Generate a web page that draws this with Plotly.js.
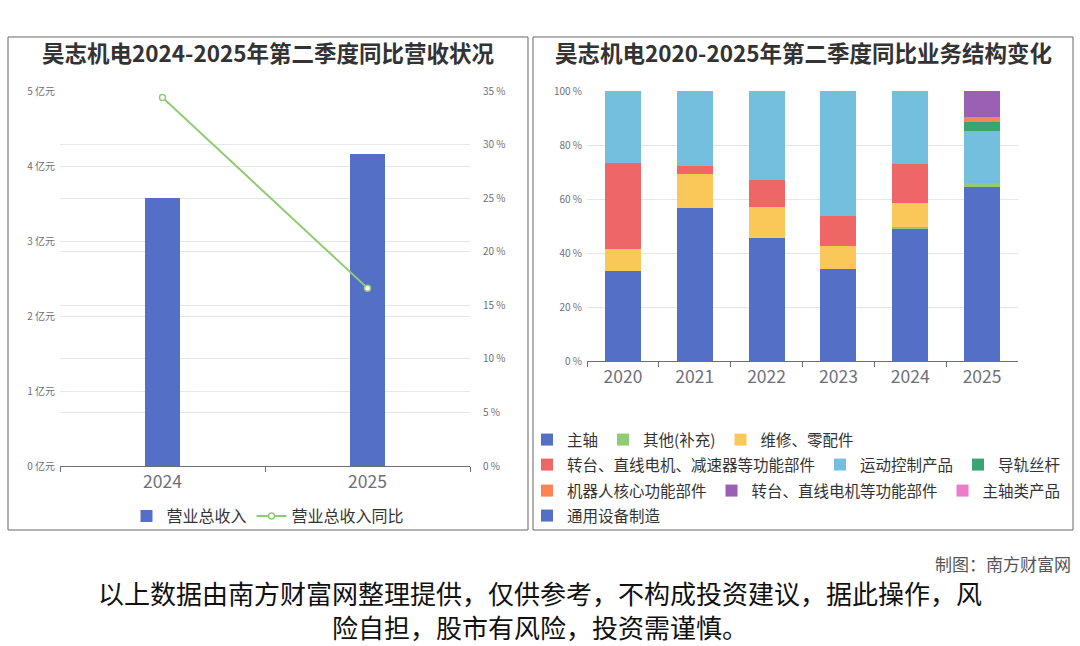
<!DOCTYPE html>
<html>
<head>
<meta charset="utf-8">
<script src="https://cdn.plot.ly/plotly-3.0.1.min.js"></script>
<style>
html,body{margin:0;padding:0;background:#fff;}
#chart{width:1080px;height:646px;}
</style>
</head>
<body>
<div id="chart"></div>
<script>
// ---------- data ----------
const revYears = ['2024', '2025'];
const revenue = [3.57, 4.16];          // 亿元
const revenueYoY = [34.4, 16.6];       // %

const structYears = ['2020', '2021', '2022', '2023', '2024', '2025'];
const segNames = ['主轴', '其他(补充)', '维修、零配件', '转台、直线电机、减速器等功能部件', '运动控制产品',
                  '导轨丝杆', '机器人核心功能部件', '转台、直线电机等功能部件', '主轴类产品', '通用设备制造'];
const segMainShaft   = [33.2, 56.5, 45.6, 33.9, 49.0, 64.5];
const segOther       = [0, 0, 0, 0, 0.6, 1.5];
const segRepair      = [8.3, 12.6, 11.5, 8.6, 9.1, 0];
const segTurntable   = [32.0, 3.2, 10.1, 11.2, 14.4, 0];
const segMotion      = [26.5, 27.7, 32.8, 46.3, 26.9, 19.1];
const segGuide       = [0, 0, 0, 0, 0, 3.4];
const segRobot       = [0, 0, 0, 0, 0, 1.8];
const segTurntable2  = [0, 0, 0, 0, 0, 9.7];
const segShaftProd   = [0, 0, 0, 0, 0, 0];
const segGeneral     = [0, 0, 0, 0, 0, 0];
const segValues = [segMainShaft, segOther, segRepair, segTurntable, segMotion,
                   segGuide, segRobot, segTurntable2, segShaftProd, segGeneral];

// ---------- styles ----------
const palette = ['#5470c6', '#91cc75', '#fac858', '#ee6666', '#73c0de',
                 '#3ba272', '#fc8452', '#9a60b4', '#ea7ccc', '#5470c6'];
const segLegend = ['legend2', 'legend2', 'legend2', 'legend3', 'legend3', 'legend3',
                   'legend4', 'legend4', 'legend4', 'legend5'];
const FONT = '"Noto Sans CJK SC", "Noto Sans", sans-serif';
const W = 1080, H = 646;
const px = v => v / W;
const py = v => 1 - v / H;
const axisGray = '#6e7079';
const gridGray = '#e6e6e6';

const traces = [];
traces.push({
  type: 'bar', name: '营业总收入', x: revYears, y: revenue,
  xaxis: 'x', yaxis: 'y', width: 0.17,
  marker: {color: '#5470c6', line: {width: 0}},
  legend: 'legend', hoverinfo: 'skip'
});
traces.push({
  type: 'scatter', mode: 'lines+markers', name: '营业总收入同比', x: revYears, y: revenueYoY,
  xaxis: 'x', yaxis: 'y2',
  line: {color: '#91cc75', width: 2},
  marker: {symbol: 'circle', size: 6, color: '#ffffff', line: {color: '#91cc75', width: 1.5}},
  legend: 'legend', hoverinfo: 'skip', cliponaxis: false
});
segNames.forEach((n, i) => {
  traces.push({
    type: 'bar', name: n, x: structYears, y: segValues[i],
    xaxis: 'x2', yaxis: 'y3', width: 0.5,
    marker: {color: palette[i], line: {width: 0}},
    legend: segLegend[i], hoverinfo: 'skip'
  });
});

const tickFontSmall = {family: FONT, size: 10, color: axisGray};
const catFont = {family: FONT, size: 17.5, color: axisGray};

function rowLegend(yPix) {
  return {
    orientation: 'h', x: px(527), xanchor: 'left', y: py(yPix), yanchor: 'middle',
    font: {family: FONT, size: 15.5, color: '#333'}, bgcolor: 'rgba(0,0,0,0)',
    traceorder: 'normal', itemclick: false, itemdoubleclick: false
  };
}

const layout = {
  width: W, height: H,
  margin: {l: 0, r: 0, t: 0, b: 0},
  paper_bgcolor: '#ffffff', plot_bgcolor: 'rgba(0,0,0,0)',
  font: {family: FONT, color: axisGray},
  barmode: 'stack',
  showlegend: true,
  xaxis: {
    domain: [px(60), px(470)], anchor: 'y', type: 'category',
    tickson: 'boundaries', ticks: 'outside', ticklen: 5, tickcolor: axisGray,
    showline: true, linecolor: axisGray, linewidth: 1, showgrid: false,
    tickfont: catFont, fixedrange: true
  },
  yaxis: {
    domain: [py(466), py(91)], anchor: 'x', range: [0, 5], dtick: 1,
    ticksuffix: ' 亿元', showgrid: true, gridcolor: gridGray, zeroline: false,
    tickfont: tickFontSmall, ticks: '', ticklabelstandoff: 4, fixedrange: true
  },
  yaxis2: {
    overlaying: 'y', side: 'right', anchor: 'x', range: [0, 35], dtick: 5,
    ticksuffix: ' %', showgrid: true, gridcolor: gridGray, zeroline: false,
    tickfont: tickFontSmall, ticks: '', ticklabelstandoff: 12, fixedrange: true
  },
  xaxis2: {
    domain: [px(587), px(1018)], anchor: 'y3', type: 'category',
    tickson: 'boundaries', ticks: 'outside', ticklen: 5, tickcolor: axisGray,
    showline: true, linecolor: axisGray, linewidth: 1, showgrid: false,
    tickfont: catFont, fixedrange: true
  },
  yaxis3: {
    domain: [py(361), py(91)], anchor: 'x2', range: [0, 100], dtick: 20,
    ticksuffix: ' %', showgrid: true, gridcolor: gridGray, zeroline: false,
    tickfont: tickFontSmall, ticks: '', ticklabelstandoff: 4, fixedrange: true
  },
  legend: {
    orientation: 'h', x: px(268), xanchor: 'center', y: py(516), yanchor: 'middle',
    font: {family: FONT, size: 16, color: '#333'}, bgcolor: 'rgba(0,0,0,0)',
    traceorder: 'normal', itemclick: false, itemdoubleclick: false
  },
  legend2: rowLegend(440),
  legend3: rowLegend(465),
  legend4: rowLegend(491),
  legend5: rowLegend(516),
  shapes: [
    {type: 'rect', xref: 'paper', yref: 'paper', x0: px(8), x1: px(528), y0: py(530), y1: py(37),
     line: {color: '#666666', width: 1}, fillcolor: 'rgba(0,0,0,0)', layer: 'below'},
    {type: 'rect', xref: 'paper', yref: 'paper', x0: px(533), x1: px(1073), y0: py(530), y1: py(37),
     line: {color: '#666666', width: 1}, fillcolor: 'rgba(0,0,0,0)', layer: 'below'}
  ],
  annotations: [
    {text: '<b>昊志机电2024-2025年第二季度同比营收状况</b>', xref: 'paper', yref: 'paper',
     x: px(268), y: py(52), xanchor: 'center', yanchor: 'middle', showarrow: false,
     font: {family: FONT, size: 22.5, color: '#333'}},
    {text: '<b>昊志机电2020-2025年第二季度同比业务结构变化</b>', xref: 'paper', yref: 'paper',
     x: px(803), y: py(52), xanchor: 'center', yanchor: 'middle', showarrow: false,
     font: {family: FONT, size: 22.5, color: '#333'}},
    {text: '制图：南方财富网', xref: 'paper', yref: 'paper',
     x: px(1073), y: py(563), xanchor: 'right', yanchor: 'middle', showarrow: false,
     font: {family: FONT, size: 17, color: '#555'}},
    {text: '以上数据由南方财富网整理提供，仅供参考，不构成投资建议，据此操作，风<br>险自担，股市有风险，投资需谨慎。',
     xref: 'paper', yref: 'paper', align: 'center',
     x: px(540), y: py(609), xanchor: 'center', yanchor: 'middle', showarrow: false,
     borderpad: 0, borderwidth: 0,
     font: {family: FONT, size: 26, color: '#111'}}
  ]
};

Plotly.newPlot('chart', traces, layout, {displayModeBar: false, staticPlot: true});
</script>
</body>
</html>
